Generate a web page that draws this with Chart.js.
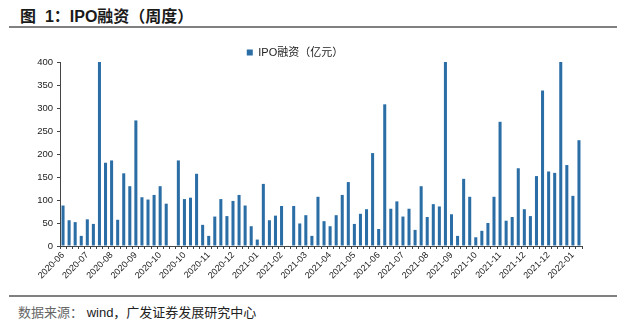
<!DOCTYPE html>
<html>
<head>
<meta charset="utf-8">
<script src="https://cdn.jsdelivr.net/npm/chart.js@4"></script>
<style>
  html, body { margin: 0; padding: 0; background: #fff; }
  body { width: 626px; height: 326px; position: relative; overflow: hidden; font-family: "Liberation Sans", "Noto Sans CJK SC", sans-serif; }
  #title { position: absolute; left: 20px; top: 3px; font-size: 16px; font-weight: bold; color: #1a1a1a; white-space: pre; font-family: "Liberation Sans", "Noto Sans CJK SC", sans-serif; }
  .rule { position: absolute; left: 9px; width: 608px; height: 2px; background: #808080; }
  #footer { position: absolute; left: 18px; top: 302px; font-size: 13px; color: #222; font-family: "Liberation Sans", "Noto Sans CJK SC", sans-serif; }
  #footer .src { color: #666; }
  #wrap { position: absolute; left: 0; top: 40px; width: 626px; height: 252px; }
</style>
</head>
<body>
<div id="title">图  1：IPO融资（周度）</div>
<div class="rule" style="top:26px"></div>
<div id="wrap"><canvas id="ipoChart"></canvas></div>
<div class="rule" style="top:295px"></div>
<div id="footer"><span class="src">数据来源：</span> wind，广发证券发展研究中心</div>

<script>
const SERIES_NAME = 'IPO融资（亿元）';
const BAR_COLOR   = '#2b6ea6';

// weekly IPO financing, 100m yuan
const WEEK_VALUES = [
  88, 56, 52, 22, 58, 48, 400, 181, 186, 57,
  158, 130, 273, 106, 101, 111, 130, 92, null, 186,
  102, 105, 157, 46, 22, 64, 102, 65, 98, 111,
  88, 43, 14, 135, 56, 66, 87, 1, 87, 49,
  67, 22, 107, 54, 43, 67, 111, 139, 48, 70,
  80, 202, 37, 308, 81, 97, 64, 81, 35, 130,
  63, 91, 86, 400, 69, 22, 146, 107, 19, 33,
  50, 107, 270, 55, 63, 169, 80, 65, 152, 338,
  162, 159, 400, 176, 109, 230
];

// one label every 4 weeks
const TICK_LABELS = [
  '2020-06','2020-07','2020-08','2020-09','2020-10','2020-10','2020-11','2020-12',
  '2021-01','2021-02','2021-03','2021-04','2021-05','2021-06','2021-07','2021-08',
  '2021-09','2021-10','2021-11','2021-12','2021-12','2022-01'
];
const Y_TICKS = [0, 50, 100, 150, 200, 250, 300, 350, 400];

const labels = WEEK_VALUES.map((_, i) => TICK_LABELS[i / 4] || '');

const TXT = '#222';
const AXIS = '#444';

// keep the legend strip short so the plot starts right under it
const tightLegend = {
  id: 'tightLegend',
  beforeInit(chart) {
    const fit = chart.legend.fit;
    chart.legend.fit = function () { fit.call(this); this.height = 18; };
  }
};

new Chart(document.getElementById('ipoChart'), {
  type: 'bar',
  data: {
    labels: labels,
    datasets: [{
      label: SERIES_NAME,
      data: WEEK_VALUES,
      backgroundColor: BAR_COLOR,
      borderWidth: 0,
      categoryPercentage: 1,
      barPercentage: 0.5
    }]
  },
  options: {
    responsive: true,
    maintainAspectRatio: false,
    animation: false,
    layout: { padding: { left: 8, right: 44, top: 4, bottom: 0 } },
    plugins: {
      legend: {
        position: 'top',
        labels: {
          color: TXT, boxWidth: 6, boxHeight: 6, padding: 3,
          font: { size: 11, family: '"Liberation Sans", "Noto Sans CJK SC", sans-serif' }
        }
      },
      tooltip: { enabled: false }
    },
    scales: {
      x: {
        grid: { display: true, drawOnChartArea: false, drawTicks: true, tickLength: 3, color: AXIS, offset: true },
        border: { display: true, color: AXIS, width: 1 },
        ticks: {
          autoSkip: false, maxRotation: 45, minRotation: 45, padding: 1,
          color: TXT, font: { size: 9, family: '"Liberation Sans", sans-serif' }
        },
        afterFit: s => { s.height = 46; }
      },
      y: {
        min: 0, max: 400,
        afterBuildTicks: s => { s.ticks = Y_TICKS.map(v => ({ value: v })); },
        grid: { display: true, drawOnChartArea: false, drawTicks: true, tickLength: 3, color: AXIS },
        border: { display: true, color: AXIS, width: 1 },
        ticks: { color: TXT, padding: 4, font: { size: 9.5, family: '"Liberation Sans", sans-serif' } },
        afterFit: s => { s.width = 52; s.paddingTop = 0; }
      }
    }
  },
  plugins: [tightLegend]
});
</script>
</body>
</html>
